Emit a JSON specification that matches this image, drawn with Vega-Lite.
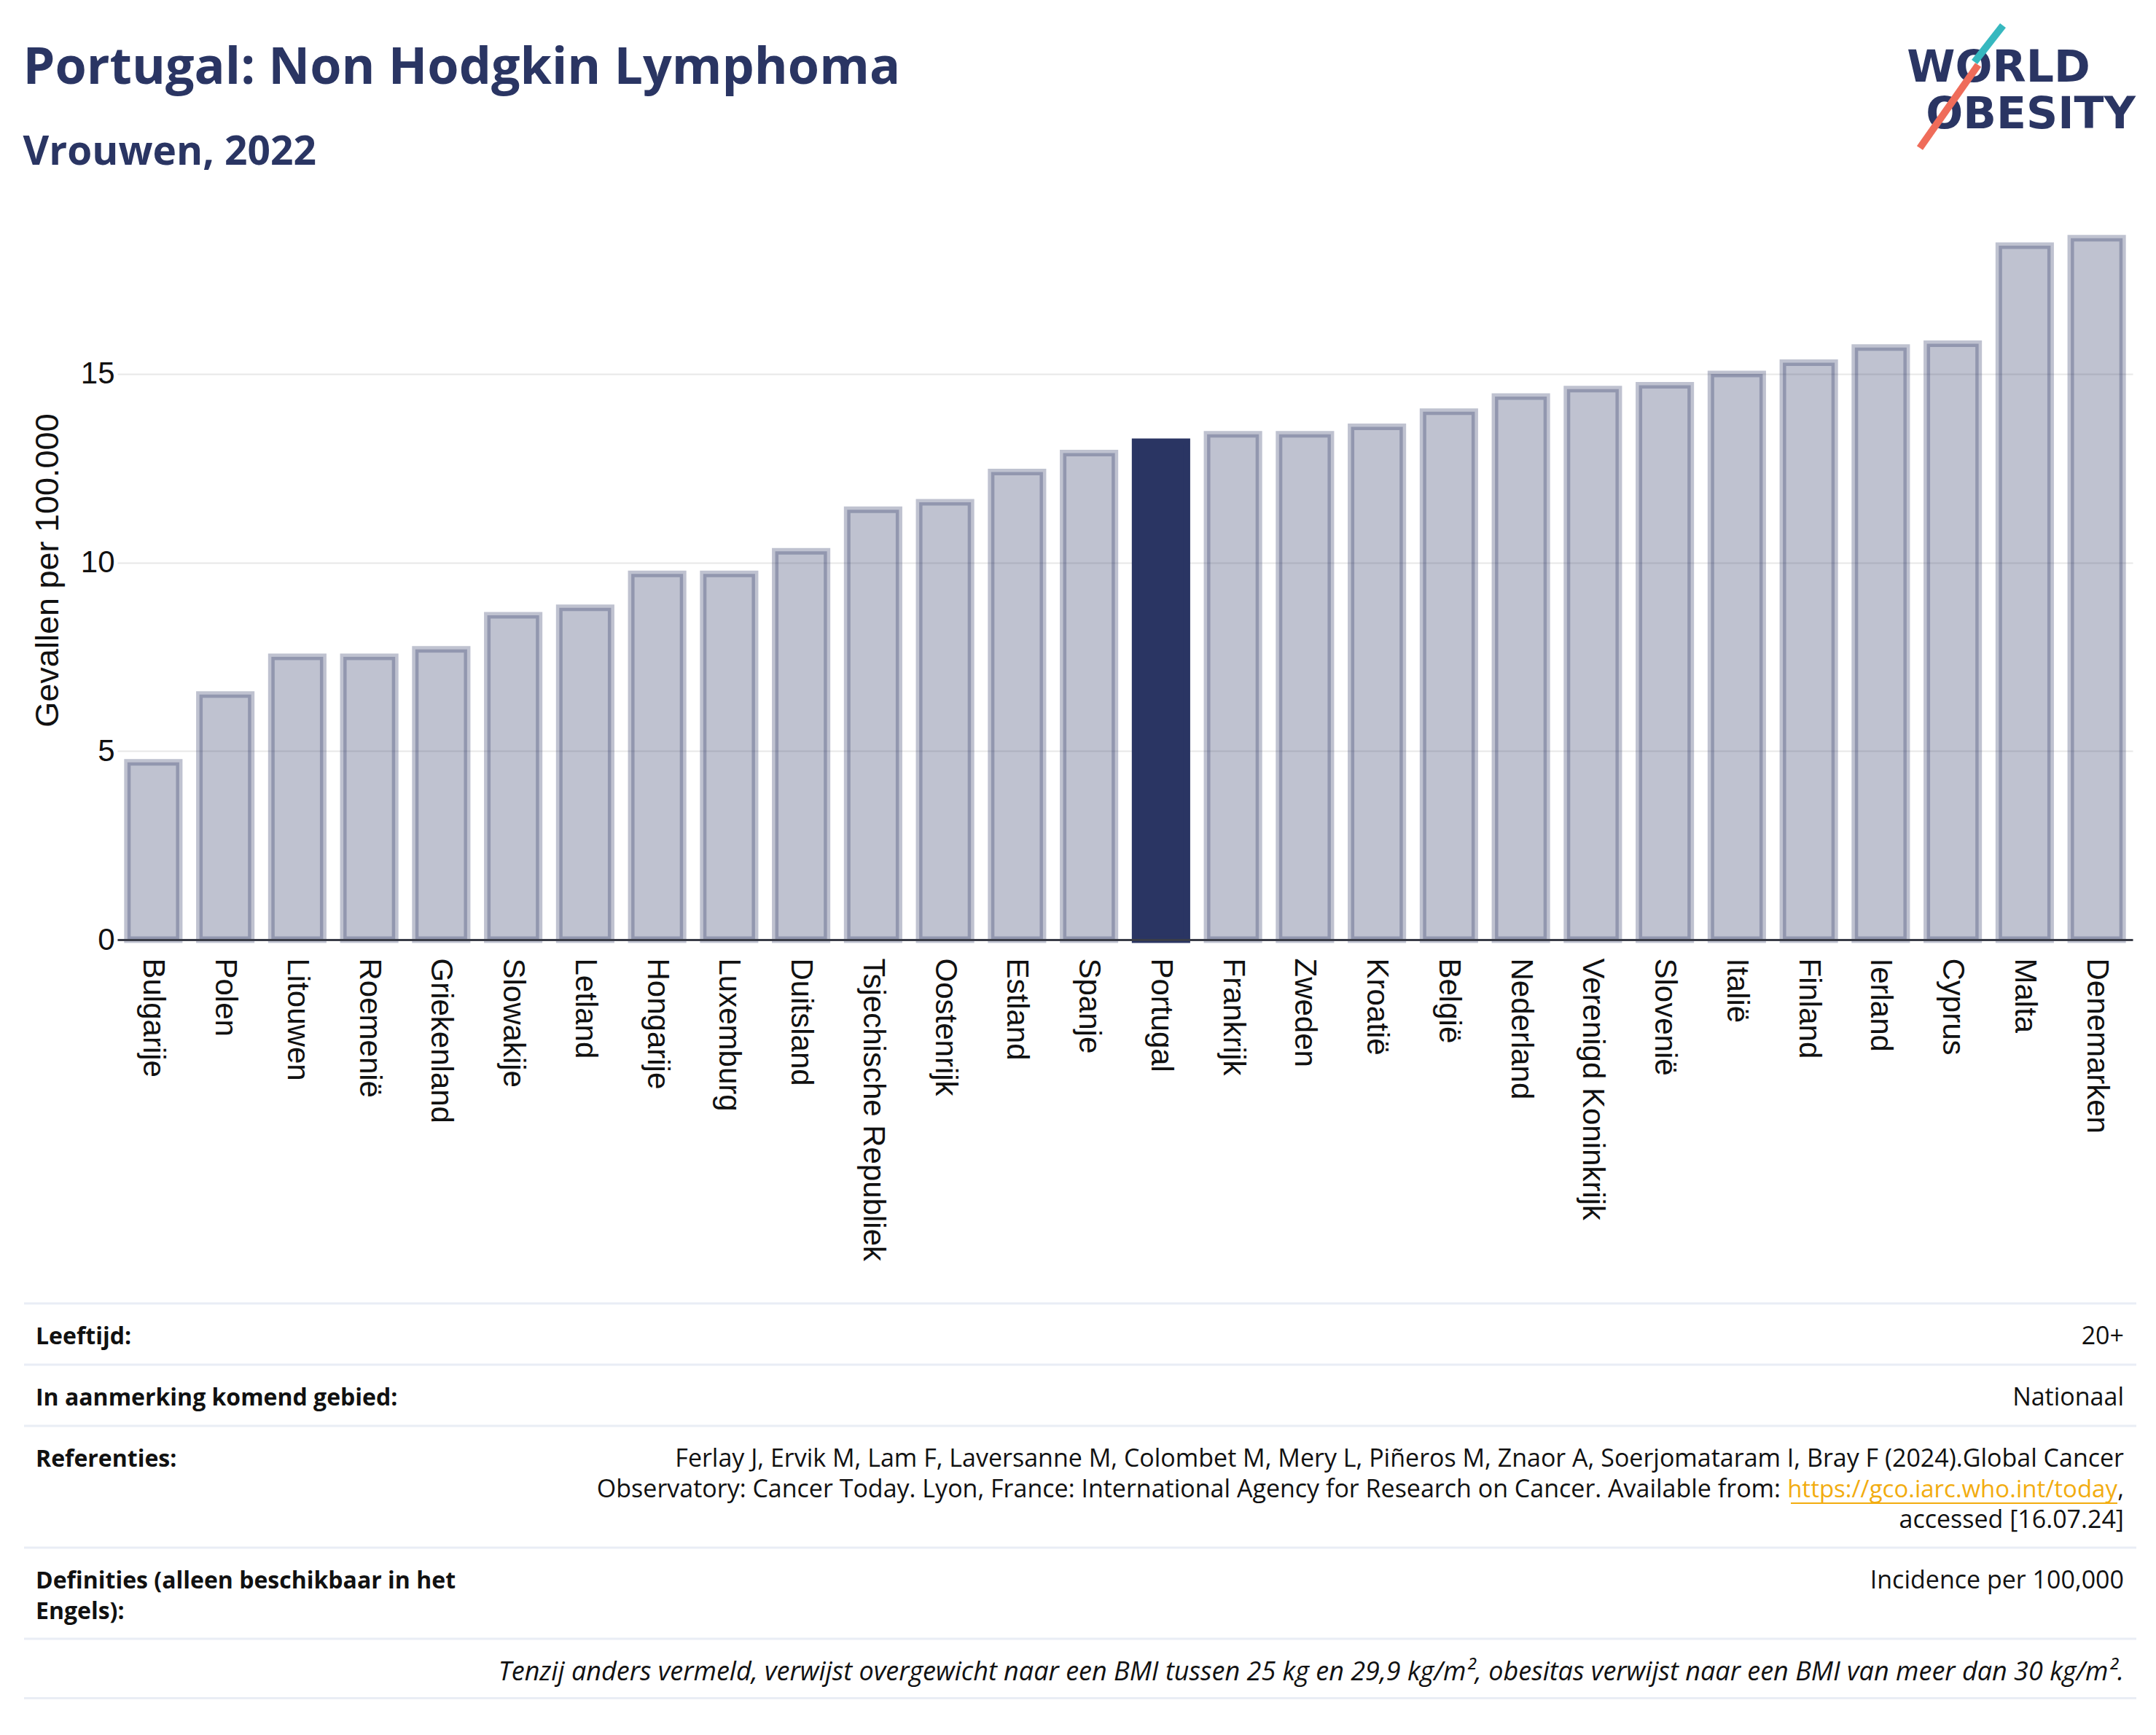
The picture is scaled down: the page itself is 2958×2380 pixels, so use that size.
{
  "$schema": "https://vega.github.io/schema/vega-lite/v6.json",
  "background": "white",
  "padding": {"left": 31, "top": 30, "right": 0, "bottom": 0},
  "title": {
    "text": "Portugal: Non Hodgkin Lymphoma",
    "subtitle": "Vrouwen, 2022",
    "anchor": "start",
    "frame": "bounds",
    "font": "Open Sans",
    "fontSize": 70,
    "fontWeight": "bold",
    "color": "#2a3563",
    "subtitleFont": "Open Sans",
    "subtitleFontSize": 55,
    "subtitleFontWeight": "bold",
    "subtitleColor": "#2a3563",
    "subtitlePadding": 53,
    "offset": -208
  },
  "config": {
    "view": {"stroke": null},
    "font": "Open Sans",
    "text": {"font": "Open Sans"}
  },
  "spacing": 56,
  "vconcat": [
    {
      "spacing": 0,
      "hconcat": [
        {
          "width": 10,
          "height": 1,
          "data": {"values": []},
          "mark": {"type": "point", "opacity": 0}
        },
        {
          "width": 2765,
          "height": 1014,
          "layer": [
            {
              "data": {
                "values": [
                  {"country": "Bulgarije", "value": 4.7},
                  {"country": "Polen", "value": 6.5},
                  {"country": "Litouwen", "value": 7.5},
                  {"country": "Roemenië", "value": 7.5},
                  {"country": "Griekenland", "value": 7.7},
                  {"country": "Slowakije", "value": 8.6},
                  {"country": "Letland", "value": 8.8},
                  {"country": "Hongarije", "value": 9.7},
                  {"country": "Luxemburg", "value": 9.7},
                  {"country": "Duitsland", "value": 10.3},
                  {"country": "Tsjechische Republiek", "value": 11.4},
                  {"country": "Oostenrijk", "value": 11.6},
                  {"country": "Estland", "value": 12.4},
                  {"country": "Spanje", "value": 12.9},
                  {"country": "Portugal", "value": 13.2},
                  {"country": "Frankrijk", "value": 13.4},
                  {"country": "Zweden", "value": 13.4},
                  {"country": "Kroatië", "value": 13.6},
                  {"country": "België", "value": 14.0},
                  {"country": "Nederland", "value": 14.4},
                  {"country": "Verenigd Koninkrijk", "value": 14.6},
                  {"country": "Slovenië", "value": 14.7},
                  {"country": "Italië", "value": 15.0},
                  {"country": "Finland", "value": 15.3},
                  {"country": "Ierland", "value": 15.7},
                  {"country": "Cyprus", "value": 15.8},
                  {"country": "Malta", "value": 18.4},
                  {"country": "Denemarken", "value": 18.6}
                ]
              },
              "mark": {"type": "bar", "color": "#2a3563", "stroke": "#2a3563", "strokeWidth": 9},
              "encoding": {
                "x": {
                  "field": "country",
                  "type": "nominal",
                  "sort": ["Bulgarije", "Polen", "Litouwen", "Roemenië", "Griekenland", "Slowakije", "Letland", "Hongarije", "Luxemburg", "Duitsland", "Tsjechische Republiek", "Oostenrijk", "Estland", "Spanje", "Portugal", "Frankrijk", "Zweden", "Kroatië", "België", "Nederland", "Verenigd Koninkrijk", "Slovenië", "Italië", "Finland", "Ierland", "Cyprus", "Malta", "Denemarken"],
                  "scale": {"paddingInner": 0.28, "paddingOuter": 0.14},
                  "axis": {
                    "title": null,
                    "labelAngle": 90,
                    "labelFont": "Liberation Sans",
                    "labelFontSize": 42,
                    "labelColor": "#111111",
                    "labelPadding": 25,
                    "labelLimit": 1000,
                    "ticks": false,
                    "domain": true,
                    "domainColor": "#3a3d48",
                    "domainWidth": 3,
                    "grid": false,
                    "zindex": 1
                  }
                },
                "y": {
                  "field": "value",
                  "type": "quantitative",
                  "scale": {"domain": [0, 19.6], "nice": false},
                  "axis": {
                    "title": "Gevallen per 100.000",
                    "values": [0, 5, 10, 15],
                    "grid": true,
                    "gridColor": "#e8e8e8",
                    "gridWidth": 2,
                    "domain": false,
                    "ticks": false,
                    "labelFont": "Liberation Sans",
                    "labelFontSize": 42,
                    "labelColor": "#111111",
                    "labelPadding": 4,
                    "titleFont": "Liberation Sans",
                    "titleFontSize": 45,
                    "titleFontWeight": "normal",
                    "titleColor": "#111111",
                    "titlePadding": 22
                  }
                },
                "fillOpacity": {"condition": {"test": "datum.country === 'Portugal'", "value": 1}, "value": 0.3},
                "strokeOpacity": {"condition": {"test": "datum.country === 'Portugal'", "value": 1}, "value": 0.3}
              }
            },
            {
              "data": {"values": [{}]},
              "mark": {"type": "text", "text": "WORLD", "font": "DejaVu Sans", "fontSize": 60, "fontWeight": "bold", "color": "#2a3563", "align": "center", "baseline": "alphabetic", "dx": -184},
              "encoding": {"x": {"value": "width"}, "y": {"value": -163}}
            },
            {
              "data": {"values": [{}]},
              "mark": {"type": "text", "text": "OBESITY", "font": "DejaVu Sans", "fontSize": 60, "fontWeight": "bold", "color": "#2a3563", "align": "center", "baseline": "alphabetic", "dx": -140},
              "encoding": {"x": {"value": "width"}, "y": {"value": -99}}
            },
            {
              "data": {"values": [{}]},
              "mark": {"type": "rule", "color": "#36b8bf", "strokeWidth": 10},
              "encoding": {"x": {"value": 2587}, "y": {"value": -240}, "x2": {"value": 2548}, "y2": {"value": -190}}
            },
            {
              "data": {"values": [{}]},
              "mark": {"type": "rule", "color": "#ef6c5a", "strokeWidth": 10},
              "encoding": {"x": {"value": 2553}, "y": {"value": -186}, "x2": {"value": 2473}, "y2": {"value": -72}}
            }
          ]
        }
      ]
    },
    {
      "spacing": 0,
      "vconcat": [
        {
          "width": 2898,
          "height": 81.5,
          "data": {"values": [{}]},
          "layer": [
            {"mark": {"type": "rule", "color": "#e9edf5", "strokeWidth": 3}, "encoding": {"y": {"value": 0}}},
            {"mark": {"type": "text", "text": "Leeftijd:", "align": "left", "baseline": "alphabetic", "fontSize": 32, "fontWeight": "bold", "color": "#111111"}, "encoding": {"x": {"value": 16}, "y": {"value": 56}}},
            {"mark": {"type": "text", "text": "20+", "align": "right", "baseline": "alphabetic", "fontSize": 34, "color": "#111111"}, "encoding": {"x": {"value": 2881}, "y": {"value": 56}}}
          ]
        },
        {
          "width": 2898,
          "height": 81.5,
          "data": {"values": [{}]},
          "layer": [
            {"mark": {"type": "rule", "color": "#e9edf5", "strokeWidth": 3}, "encoding": {"y": {"value": 0}}},
            {"mark": {"type": "text", "text": "In aanmerking komend gebied:", "align": "left", "baseline": "alphabetic", "fontSize": 32, "fontWeight": "bold", "color": "#111111"}, "encoding": {"x": {"value": 16}, "y": {"value": 56}}},
            {"mark": {"type": "text", "text": "Nationaal", "align": "right", "baseline": "alphabetic", "fontSize": 34, "color": "#111111"}, "encoding": {"x": {"value": 2881}, "y": {"value": 56}}}
          ]
        },
        {
          "width": 2898,
          "height": 164.5,
          "data": {"values": [{}]},
          "layer": [
            {"mark": {"type": "rule", "color": "#e9edf5", "strokeWidth": 3}, "encoding": {"y": {"value": 0}}},
            {"mark": {"type": "text", "text": "Referenties:", "align": "left", "baseline": "alphabetic", "fontSize": 32, "fontWeight": "bold", "color": "#111111"}, "encoding": {"x": {"value": 16}, "y": {"value": 56}}},
            {"mark": {"type": "text", "text": "Ferlay J, Ervik M, Lam F, Laversanne M, Colombet M, Mery L, Piñeros M, Znaor A, Soerjomataram I, Bray F (2024).Global Cancer", "align": "right", "baseline": "alphabetic", "fontSize": 34, "color": "#111111"}, "encoding": {"x": {"value": 2881}, "y": {"value": 56}}},
            {"mark": {"type": "text", "text": "Observatory: Cancer Today. Lyon, France: International Agency for Research on Cancer. Available from:", "align": "right", "baseline": "alphabetic", "fontSize": 34, "color": "#111111", "dx": -471}, "encoding": {"x": {"value": 2881}, "y": {"value": 98}}},
            {"mark": {"type": "text", "text": "https://gco.iarc.who.int/today", "align": "right", "baseline": "alphabetic", "fontSize": 33, "color": "#f2ac0f", "dx": -9}, "encoding": {"x": {"value": 2881}, "y": {"value": 98}}},
            {"mark": {"type": "text", "text": ",", "align": "right", "baseline": "alphabetic", "fontSize": 34, "color": "#111111"}, "encoding": {"x": {"value": 2881}, "y": {"value": 98}}},
            {"mark": {"type": "rule", "color": "#f2ac0f", "strokeWidth": 2}, "encoding": {"x": {"value": 2424}, "x2": {"value": 2872}, "y": {"value": 106}}},
            {"mark": {"type": "text", "text": "accessed [16.07.24]", "align": "right", "baseline": "alphabetic", "fontSize": 34, "color": "#111111"}, "encoding": {"x": {"value": 2881}, "y": {"value": 140}}}
          ]
        },
        {
          "width": 2898,
          "height": 122.5,
          "data": {"values": [{}]},
          "layer": [
            {"mark": {"type": "rule", "color": "#e9edf5", "strokeWidth": 3}, "encoding": {"y": {"value": 0}}},
            {"mark": {"type": "text", "text": ["Definities (alleen beschikbaar in het", "Engels):"], "lineHeight": 42, "align": "left", "baseline": "alphabetic", "fontSize": 32, "fontWeight": "bold", "color": "#111111"}, "encoding": {"x": {"value": 16}, "y": {"value": 56}}},
            {"mark": {"type": "text", "text": "Incidence per 100,000", "align": "right", "baseline": "alphabetic", "fontSize": 34, "color": "#111111"}, "encoding": {"x": {"value": 2881}, "y": {"value": 56}}}
          ]
        },
        {
          "width": 2898,
          "height": 81.5,
          "data": {"values": [{}]},
          "layer": [
            {"mark": {"type": "rule", "color": "#e9edf5", "strokeWidth": 3}, "encoding": {"y": {"value": 0}}},
            {"mark": {"type": "rule", "color": "#e9edf5", "strokeWidth": 3}, "encoding": {"y": {"value": "height"}}},
            {"mark": {"type": "text", "text": "Tenzij anders vermeld, verwijst overgewicht naar een BMI tussen 25 kg en 29,9 kg/m², obesitas verwijst naar een BMI van meer dan 30 kg/m².", "align": "right", "baseline": "alphabetic", "fontSize": 36, "fontStyle": "italic", "color": "#111111"}, "encoding": {"x": {"value": 2881}, "y": {"value": 57}}}
          ]
        }
      ]
    }
  ]
}
